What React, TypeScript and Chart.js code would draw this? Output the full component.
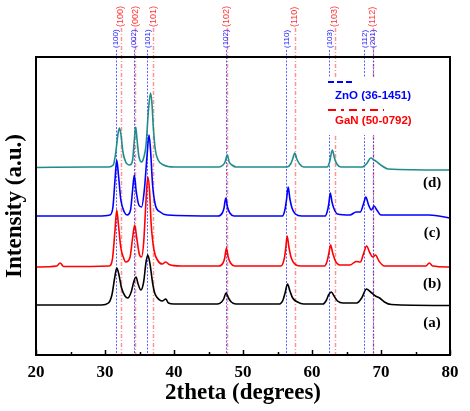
import React, { useEffect, useRef } from 'react';
import { Chart, registerables } from 'chart.js';

Chart.register(...registerables);

// 2theta (degrees), intensity (a.u., offset per sample)
const seriesA: [number, number][] = [
  [20, 50], [29.5, 50], [30.5, 52], [31.0, 60], [31.4, 77], [31.7, 87], [32.0, 81], [32.4, 67], [32.9, 59],
  [33.3, 57], [33.8, 63], [34.2, 74], [34.5, 78], [34.8, 71], [35.2, 65], [35.6, 73], [35.95, 93], [36.2, 100],
  [36.5, 92], [36.9, 72], [37.2, 62], [37.5, 58], [38.3, 54], [38.8, 56], [39.2, 52], [40, 51], [46.3, 51],
  [46.9, 53], [47.2, 56], [47.55, 62], [47.9, 57], [48.3, 53], [49, 51], [55.3, 51], [55.8, 55], [56.1, 62],
  [56.45, 71], [56.8, 64], [57.2, 57], [57.9, 53], [58.8, 51], [61.6, 51], [62.1, 55], [62.4, 60], [62.8, 63],
  [63.2, 59], [63.7, 54], [64.5, 52], [66.5, 52], [67.2, 57], [67.9, 66], [68.5, 63], [69.2, 59], [69.8, 57],
  [70.5, 53], [71.5, 50.5], [80, 49.5],
];
const seriesB: [number, number][] = [
  [20, 88], [23.0, 89], [23.5, 92], [24.0, 88.5], [30.6, 89], [31.1, 97], [31.45, 125], [31.7, 145], [31.95, 130],
  [32.3, 107], [32.7, 97], [33.0, 93], [33.6, 97], [34.0, 117], [34.3, 130], [34.6, 117], [35.0, 100], [35.3, 98],
  [35.6, 112], [35.95, 155], [36.2, 178], [36.45, 165], [36.7, 130], [37.1, 105], [37.6, 95], [38.3, 91],
  [38.8, 93], [39.3, 90.5], [41, 89], [46.5, 89], [47.1, 92], [47.35, 97], [47.6, 107], [47.85, 98], [48.2, 92],
  [48.8, 89], [55.5, 89], [56.0, 97], [56.2, 107], [56.4, 119], [56.65, 108], [57.0, 97], [57.5, 91], [58.3, 89],
  [61.8, 89], [62.2, 94], [62.45, 102], [62.7, 110], [63.0, 102], [63.4, 94], [64.0, 90], [65.5, 90], [66.4, 93.5],
  [67.0, 93], [67.5, 102], [67.9, 109], [68.4, 102], [68.8, 98], [69.2, 100], [69.7, 94], [70.5, 89], [76.5, 89],
  [77, 92], [77.5, 89], [80, 88],
];
const seriesC: [number, number][] = [
  [20, 139], [29, 139], [30.7, 140], [31.15, 148], [31.45, 175], [31.7, 195], [31.95, 180], [32.3, 155],
  [32.8, 143], [33.2, 140], [33.7, 145], [34.0, 165], [34.25, 180], [34.5, 165], [34.9, 150], [35.3, 148],
  [35.7, 165], [36.1, 200], [36.38, 220], [36.6, 205], [36.9, 170], [37.3, 150], [38, 143], [39, 140],
  [46.4, 139], [47.0, 142], [47.25, 147], [47.5, 157], [47.75, 148], [48.1, 142], [48.7, 139], [55.7, 139],
  [56.1, 146], [56.3, 155], [56.55, 168], [56.8, 156], [57.1, 147], [57.6, 141], [58.5, 139], [61.9, 139],
  [62.3, 146], [62.45, 152], [62.65, 162], [62.9, 153], [63.2, 146], [63.7, 141], [65.5, 140], [66.4, 143],
  [67.0, 143], [67.5, 152], [67.8, 158], [68.2, 150], [68.6, 145], [69.0, 149], [69.4, 145], [70, 140],
  [72.5, 140], [77, 140], [80, 137],
];
const seriesD: [number, number][] = [
  [20, 187.5], [28, 188], [30.5, 188], [31.2, 190], [31.55, 202], [31.9, 222], [32.1, 227], [32.3, 221],
  [32.6, 203], [33.0, 193], [33.6, 190], [34.0, 195], [34.25, 215], [34.45, 228], [34.65, 215], [34.9, 199],
  [35.3, 193], [35.6, 197], [35.95, 210], [36.3, 245], [36.6, 262], [36.8, 252], [37.0, 228], [37.3, 205],
  [37.7, 195], [38.5, 190], [40, 188], [46.5, 188], [47.1, 190], [47.4, 193], [47.72, 200], [48.0, 193],
  [48.4, 190], [49, 188], [56.4, 188], [56.9, 191], [57.2, 196], [57.5, 202], [57.8, 196], [58.2, 191],
  [58.8, 188], [62.2, 188], [62.55, 193], [62.95, 205], [63.25, 197], [63.6, 191], [64.2, 188], [67.3, 188],
  [68.0, 192], [68.5, 197], [69.0, 195], [69.6, 192], [70.2, 189], [71, 186], [80, 185],
];

const sampleSeries = [seriesA, seriesB, seriesC, seriesD];
const sampleNames = ['(a)', '(b)', '(c)', '(d)'];
const sampleColors = ['#000000', '#ff0000', '#0000ff', '#1f8c8c'];
const sampleLabelPos: [number, number][] = [[77.4, 32], [77.4, 71], [77.4, 122], [77.4, 172]];

const znoPeaks = [31.55, 34.16, 36.13, 47.49, 56.28, 62.51, 67.58, 68.84];
const znoLabels = ['(100)', '(002)', '(101)', '(102)', '(110)', '(103)', '(112)', '(201)'];
const ganPeaks = [32.28, 34.39, 36.96, 47.64, 57.49, 63.29, 68.84];
const ganLabels = ['(100)', '(002)', '(101)', '(102)', '(110)', '(103)', '(112)'];

const xTicks = [20, 25, 30, 35, 40, 45, 50, 55, 60, 65, 70, 75, 80];
const xTitle = '2theta (degrees)';
const yTitle = 'Intensity (a.u.)';
const legendZnO = 'ZnO (36-1451)';
const legendGaN = 'GaN (50-0792)';

const SERIF = '"Liberation Serif", "Times New Roman", serif';
const SANS = '"Liberation Sans", Arial, sans-serif';

const decorPlugin = {
  id: 'decor',
  beforeDatasetsDraw(chart: any) {
    const { ctx, chartArea, scales } = chart;
    const x = scales.x;
    ctx.save();
    // GaN reference lines
    ctx.strokeStyle = 'rgba(255,40,40,0.5)';
    ctx.lineWidth = 1.5;
    ctx.setLineDash([4, 2, 1, 2]);
    ganPeaks.forEach((v) => {
      const px = Math.round(x.getPixelForValue(v)) + 0.5;
      ctx.beginPath();
      ctx.moveTo(px, 28);
      ctx.lineTo(px, chartArea.bottom);
      ctx.stroke();
    });
    // ZnO reference lines
    ctx.strokeStyle = 'rgba(20,20,255,0.85)';
    ctx.lineWidth = 0.8;
    ctx.setLineDash([2, 1.5]);
    znoPeaks.forEach((v) => {
      const px = Math.round(x.getPixelForValue(v)) + 0.5;
      ctx.beginPath();
      ctx.moveTo(px, 50);
      ctx.lineTo(px, chartArea.bottom);
      ctx.stroke();
    });
    ctx.setLineDash([]);
    // top labels
    const drawRot = (text: string, px: number, yb: number, color: string, size: number) => {
      ctx.save();
      ctx.translate(px, yb);
      ctx.rotate(-Math.PI / 2);
      ctx.fillStyle = color;
      ctx.font = `${size}px ${SANS}`;
      ctx.textAlign = 'left';
      ctx.textBaseline = 'middle';
      ctx.fillText(text, 0, 0);
      ctx.restore();
    };
    ganPeaks.forEach((v, i) => drawRot(ganLabels[i], x.getPixelForValue(v), 27, '#ff3030', 9));
    znoPeaks.forEach((v, i) => drawRot(znoLabels[i], x.getPixelForValue(v), 48, '#2020ff', 8));
    ctx.restore();
  },
  afterDatasetsDraw(chart: any) {
    const { ctx, chartArea, scales } = chart;
    const { left, right, top, bottom } = chartArea;
    const x = scales.x;
    const y = scales.y;
    ctx.save();
    // legend box
    const lx = left + 290;
    const ly = top + 20;
    ctx.fillStyle = '#ffffff';
    ctx.fillRect(lx, ly, 86, 58);
    ctx.lineWidth = 2;
    ctx.strokeStyle = '#0000ff';
    ctx.setLineDash([6, 3]);
    ctx.beginPath();
    ctx.moveTo(lx + 2, ly + 5);
    ctx.lineTo(lx + 26, ly + 5);
    ctx.stroke();
    ctx.strokeStyle = '#ff0000';
    ctx.setLineDash([8, 5, 3, 5]);
    ctx.beginPath();
    ctx.moveTo(lx + 2, ly + 33);
    ctx.lineTo(lx + 58, ly + 33);
    ctx.stroke();
    ctx.setLineDash([]);
    ctx.font = `bold 11.5px ${SANS}`;
    ctx.textAlign = 'left';
    ctx.textBaseline = 'middle';
    ctx.fillStyle = '#0000ff';
    ctx.fillText(legendZnO, lx + 9, ly + 19);
    ctx.fillStyle = '#ff0000';
    ctx.fillText(legendGaN, lx + 9, ly + 44);
    // frame
    ctx.strokeStyle = '#000';
    ctx.lineWidth = 2;
    ctx.strokeRect(left, top, right - left, bottom - top);
    // inward ticks
    ctx.lineWidth = 1.5;
    xTicks.forEach((v) => {
      const px = Math.round(x.getPixelForValue(v)) + 0.5;
      const len = v % 10 === 0 ? 5 : 3;
      ctx.beginPath();
      ctx.moveTo(px, bottom);
      ctx.lineTo(px, bottom - len);
      ctx.stroke();
    });
    // sample labels
    ctx.fillStyle = '#000';
    ctx.font = `bold 15px ${SERIF}`;
    ctx.textAlign = 'center';
    ctx.textBaseline = 'middle';
    sampleLabelPos.forEach(([vx, vy], i) => {
      ctx.fillText(sampleNames[i], x.getPixelForValue(vx), y.getPixelForValue(vy));
    });
    // axis titles
    ctx.font = `bold 23px ${SERIF}`;
    ctx.fillText(xTitle, (left + right) / 2, 393);
    ctx.save();
    ctx.translate(15, (top + bottom) / 2);
    ctx.rotate(-Math.PI / 2);
    ctx.fillText(yTitle, 0, 0);
    ctx.restore();
    ctx.restore();
  },
};

export default function App() {
  const canvasRef = useRef<HTMLCanvasElement | null>(null);
  useEffect(() => {
    const canvas = canvasRef.current;
    if (!canvas) return;
    const chart = new Chart(canvas, {
      type: 'line',
      data: {
        datasets: sampleSeries.map((s, i) => ({
          label: sampleNames[i],
          data: s.map(([xv, yv]) => ({ x: xv, y: yv })),
          borderColor: sampleColors[i],
          borderWidth: 1.6,
          pointRadius: 0,
          fill: false,
          cubicInterpolationMode: 'monotone' as const,
        })),
      },
      options: {
        animation: false,
        responsive: false,
        devicePixelRatio: 1,
        layout: { padding: { left: 36, right: 20, top: 57, bottom: 0 } },
        plugins: { legend: { display: false }, tooltip: { enabled: false } },
        scales: {
          x: {
            type: 'linear',
            min: 20,
            max: 80,
            grid: { display: false, drawTicks: false },
            border: { display: false },
            ticks: {
              stepSize: 5,
              autoSkip: false,
              maxRotation: 0,
              padding: 7,
              color: '#000',
              font: { family: SERIF, weight: 'bold', size: 17 },
              callback: (v: any) => (Number(v) % 10 === 0 ? String(v) : ''),
            },
            afterFit: (s: any) => {
              s.height = 56;
            },
          },
          y: { display: false, min: 0, max: 298 },
        },
      },
      plugins: [decorPlugin],
    } as any);
    return () => chart.destroy();
  }, []);
  return (
    <div style={{ position: 'fixed', left: 0, top: 0, width: 470, height: 411, background: '#fff' }}>
      <canvas ref={canvasRef} width={470} height={411} />
    </div>
  );
}
